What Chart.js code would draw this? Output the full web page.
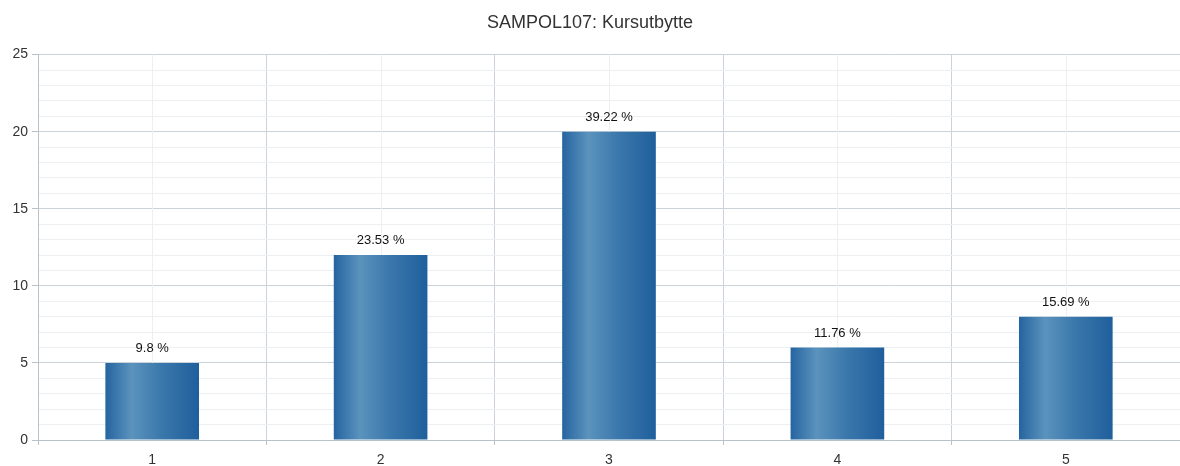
<!DOCTYPE html>
<html>
<head>
<meta charset="utf-8">
<script src="https://cdn.jsdelivr.net/npm/chart.js@4.4.1/dist/chart.umd.min.js"></script>
<style>
html,body{margin:0;padding:0;background:#fff;}
#wrap{width:1180px;height:466px;position:relative;}
</style>
</head>
<body>
<div id="wrap"><canvas id="c" width="1180" height="466"></canvas></div>
<script>
const titleText = "SAMPOL107: Kursutbytte";
const categories = ["1", "2", "3", "4", "5"];
const counts = [5, 12, 20, 6, 8];
const percentLabels = ["9.8 %", "23.53 %", "39.22 %", "11.76 %", "15.69 %"];
const yMax = 25;

const FONT = "'Liberation Sans', Arial, Helvetica, sans-serif";

function barGradient(ctx) {
  const chart = ctx.chart;
  const xs = chart.scales && chart.scales.x;
  if (!xs || !chart.chartArea || ctx.dataIndex === undefined) return '#2d6ca3';
  const c = xs.getPixelForValue(ctx.dataIndex);
  const cw = (xs.right - xs.left) / categories.length;
  const w = cw * 0.41;
  const g = chart.ctx.createLinearGradient(c - w / 2, 0, c + w / 2, 0);
  g.addColorStop(0, '#2564a0');
  g.addColorStop(0.28, '#5b93bd');
  g.addColorStop(0.6, '#3a77ab');
  g.addColorStop(1, '#1f5f9c');
  return g;
}

const minorCenters = {
  id: 'minorCenters',
  beforeDatasetsDraw(chart) {
    const xs = chart.scales.x, area = chart.chartArea, ctx = chart.ctx;
    ctx.save();
    ctx.strokeStyle = '#edf0f2';
    ctx.lineWidth = 1;
    categories.forEach((_, i) => {
      const x = Math.round(xs.getPixelForValue(i)) + 0.5;
      ctx.beginPath();
      ctx.moveTo(x, area.top);
      ctx.lineTo(x, area.bottom);
      ctx.stroke();
    });
    ctx.restore();
  }
};

const valueLabels = {
  id: 'valueLabels',
  afterDatasetsDraw(chart) {
    const meta = chart.getDatasetMeta(0), ctx = chart.ctx;
    ctx.save();
    ctx.font = "13px " + FONT;
    ctx.fillStyle = '#111';
    ctx.textAlign = 'center';
    ctx.textBaseline = 'bottom';
    meta.data.forEach((bar, i) => {
      ctx.fillText(percentLabels[i], bar.x, bar.y - 8);
    });
    ctx.restore();
  }
};

new Chart(document.getElementById('c'), {
  type: 'bar',
  data: {
    labels: categories,
    datasets: [{
      data: counts,
      backgroundColor: barGradient,
      borderColor: '#1d5a92',
      borderWidth: 0,
      categoryPercentage: 0.41,
      barPercentage: 1.0
    }]
  },
  options: {
    responsive: false,
    animation: false,
    devicePixelRatio: 1,
    layout: { padding: { top: 0, right: 0, left: 0, bottom: 0 } },
    plugins: {
      legend: { display: false },
      tooltip: { enabled: false },
      title: {
        display: true,
        text: titleText,
        color: '#333',
        font: { family: FONT, size: 18, weight: 'normal' },
        padding: { top: 12, bottom: 21 }
      }
    },
    scales: {
      x: {
        offset: true,
        grid: {
          offset: true,
          color: '#c9d3d9',
          lineWidth: 1,
          drawTicks: true,
          tickLength: 5,
          tickColor: '#b7c3ca'
        },
        border: { color: '#b7c3ca', width: 1 },
        ticks: {
          color: '#333',
          font: { family: FONT, size: 14 },
          padding: 7
        },
        afterFit(scale) { scale.height = 26; }
      },
      y: {
        min: 0,
        max: yMax,
        grid: {
          color: (c) => (c.tick && c.tick.value % 5 === 0) ? '#c9d3d9' : '#edf0f2',
          tickColor: (c) => (c.tick && c.tick.value % 5 === 0) ? '#b7c3ca' : 'rgba(0,0,0,0)',
          tickLength: 6,
          lineWidth: 1
        },
        border: { color: '#b7c3ca', width: 1 },
        ticks: {
          stepSize: 1,
          autoSkip: false,
          color: '#333',
          font: { family: FONT, size: 14 },
          padding: 4,
          callback: (v) => (v % 5 === 0 ? String(v) : '')
        },
        afterFit(scale) { scale.width = 38; }
      }
    }
  },
  plugins: [minorCenters, valueLabels]
});
</script>
</body>
</html>
